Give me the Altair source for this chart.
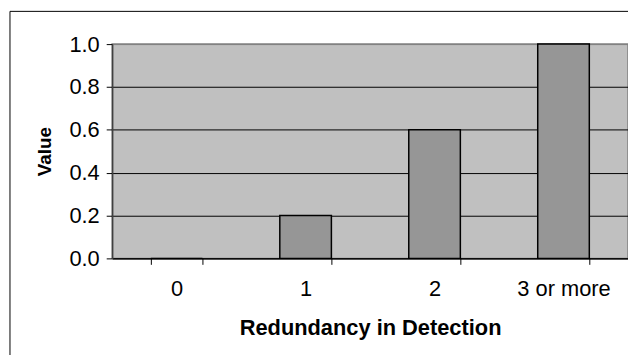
import altair as alt
import pandas as pd

categories = ["0", "1", "2", "3 or more"]
values = [0.0, 0.2, 0.6, 1.0]
y_ticks = [0.0, 0.2, 0.4, 0.6, 0.8, 1.0]

df = pd.DataFrame({"category": categories, "value": values})
FONT = "Liberation Sans"

W, H = 520, 216

border = alt.Chart(pd.DataFrame({"a": [0]})).mark_rect(
    fill=None, stroke="black", strokeWidth=1
).encode(
    x=alt.value(-103), x2=alt.value(W + 200), y=alt.value(-33), y2=alt.value(H + 300)
)

bars = alt.Chart(df).mark_bar(
    color="#969696", stroke="black", strokeWidth=1.5
).encode(
    x=alt.X(
        "category:N",
        sort=categories,
        scale=alt.Scale(paddingInner=0.6, paddingOuter=0.3),
        axis=alt.Axis(
            title="Redundancy in Detection",
            labelAngle=0,
            tickBand="extent",
            labelFont=FONT, labelFontSize=22, labelColor="black",
            labelPadding=14, tickSize=6, tickColor="black",
            domainColor="black", domainWidth=1.5,
            titleFont=FONT, titleFontSize=22, titleFontWeight="bold", titleColor="black",
            titleX=W / 2, titleY=77, titleBaseline="alphabetic", titleAlign="center",
        ),
    ),
    y=alt.Y(
        "value:Q",
        scale=alt.Scale(domain=[0, 1], nice=False),
        axis=alt.Axis(
            title="Value",
            values=y_ticks,
            format=".1f",
            labelFont=FONT, labelFontSize=22, labelColor="black",
            labelPadding=7, tickSize=6, tickColor="black",
            domainColor="#404040", domainWidth=1.5,
            grid=True,
            gridColor={"condition": {"test": "datum.value == 1", "value": "#808080"}, "value": "black"},
            gridWidth=1,
            titleFont=FONT, titleFontSize=19, titleFontWeight="bold", titleColor="black",
            titleAngle=-90, titleX=-68, titleY=H / 2, titleBaseline="middle", titleAlign="center",
        ),
    ),
)

chart = alt.layer(border, bars).properties(
    width=W, height=H,
    autosize=alt.AutoSizeParams(type="none"),
    padding={"left": 105, "top": 35, "right": 0, "bottom": 96},
    background="white",
).configure_view(
    fill="#C0C0C0", stroke="#808080", strokeWidth=1.5
)

chart.save("out.html", embed_options={"renderer": "svg", "actions": False})
